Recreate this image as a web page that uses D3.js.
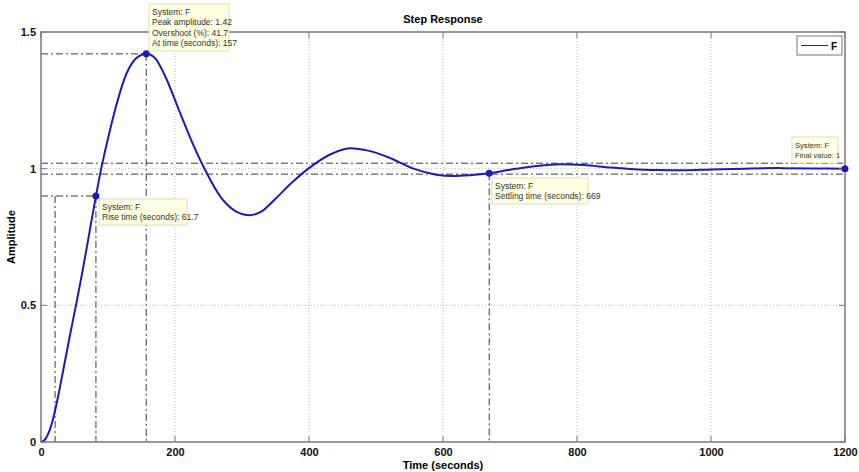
<!DOCTYPE html>
<html>
<head>
<meta charset="utf-8">
<script src="https://cdn.jsdelivr.net/npm/d3@7"></script>
<style>
  body { margin: 0; background: #fff; }
  svg { display: block; font-family: Arial, "Liberation Sans", sans-serif; }
  .tick-label { font-size: 11px; font-weight: bold; fill: #111; }
  .tip text { font-size: 8.5px; fill: #333; }
</style>
</head>
<body>
<svg id="chart" width="859" height="472"></svg>
<script>
// step response
const timeSeconds = [0, 5, 10, 15, 20, 25, 31, 42, 53, 62, 70, 82, 89, 100, 110, 128, 145, 157, 170, 185, 205, 225, 245, 270, 290, 312, 330, 350, 375, 399, 430, 461, 490, 520, 556, 590, 615, 640, 669, 700, 740, 775, 810, 850, 880, 920, 960, 1000, 1050, 1100, 1150, 1200];
const amplitude   = [0, 0.0065, 0.026, 0.058, 0.104, 0.16, 0.235, 0.375, 0.51, 0.625, 0.735, 0.9, 0.99, 1.11, 1.21, 1.35, 1.41, 1.42, 1.405, 1.34, 1.22, 1.1, 0.995, 0.89, 0.845, 0.83, 0.845, 0.89, 0.95, 1.0, 1.05, 1.075, 1.065, 1.04, 1.0, 0.978, 0.973, 0.976, 0.983, 0.996, 1.01, 1.016, 1.013, 1.004, 0.999, 0.995, 0.994, 0.997, 1.0, 1.002, 1.001, 1.0];

const xTicks = [0, 200, 400, 600, 800, 1000, 1200];
const yTicks = [0, 0.5, 1, 1.5];

const riseTimeStart = 21;
const riseTimeEnd = 82;
const riseLevel = 0.9;
const peakTime = 157;
const peakValue = 1.42;
const settleTime = 669;
const settleValue = 0.983;
const settleBand = [0.98, 1.02];
const finalTime = 1200;
const finalValue = 1;

const tipRise = ['System: F', 'Rise time (seconds): 61.7'];
const tipPeak = ['System: F', 'Peak amplitude: 1.42', 'Overshoot (%): 41.7', 'At time (seconds): 157'];
const tipSettle = ['System: F', 'Settling time (seconds): 669'];
const tipFinal = ['System: F', 'Final value: 1'];

const svg = d3.select('#chart');
const pLeft = 41, pRight = 845, pTop = 32, pBottom = 442;
const blue = '#1c1cb4';

const x = d3.scaleLinear().domain([0, 1200]).range([pLeft, pRight]);
const y = d3.scaleLinear().domain([0, 1.5]).range([pBottom, pTop]);

// grid
svg.append('g').selectAll('line')
  .data(xTicks.slice(1, -1)).enter().append('line')
  .attr('x1', d => x(d)).attr('x2', d => x(d))
  .attr('y1', pTop).attr('y2', pBottom)
  .attr('stroke', '#b8b8b8').attr('stroke-width', 1).attr('stroke-dasharray', '1,2');
svg.append('g').selectAll('line')
  .data(yTicks.slice(1, -1)).enter().append('line')
  .attr('x1', pLeft).attr('x2', pRight)
  .attr('y1', d => y(d)).attr('y2', d => y(d))
  .attr('stroke', '#b8b8b8').attr('stroke-width', 1).attr('stroke-dasharray', '1,2');

// characteristic lines
const dashDot = '7,3,2,3';
const marks = svg.append('g').attr('stroke', '#3a3a3a').attr('stroke-width', 1)
  .attr('stroke-dasharray', dashDot).attr('fill', 'none');
[
  [0, riseLevel, riseTimeEnd, riseLevel],
  [riseTimeStart, riseLevel, riseTimeStart, 0],
  [riseTimeEnd, riseLevel, riseTimeEnd, 0],
  [0, peakValue, peakTime, peakValue],
  [peakTime, peakValue, peakTime, 0],
  [0, settleBand[0], 1200, settleBand[0]],
  [0, settleBand[1], 1200, settleBand[1]],
  [settleTime, settleValue, settleTime, 0]
].forEach(s => {
  marks.append('line')
    .attr('x1', x(s[0])).attr('y1', y(s[1]))
    .attr('x2', x(s[2])).attr('y2', y(s[3]));
});

// response curve
const line = d3.line()
  .x((d, i) => x(timeSeconds[i]))
  .y(d => y(d))
  .curve(d3.curveMonotoneX);
svg.append('path')
  .datum(amplitude)
  .attr('d', line)
  .attr('fill', 'none')
  .attr('stroke', blue)
  .attr('stroke-width', 2);

// axes box
svg.append('rect')
  .attr('x', pLeft).attr('y', pTop)
  .attr('width', pRight - pLeft).attr('height', pBottom - pTop)
  .attr('fill', 'none').attr('stroke', '#7a7a7a').attr('stroke-width', 1.5);

const xAxis = d3.axisBottom(x).tickValues(xTicks).tickSize(0).tickPadding(6).tickFormat(d3.format('d'));
svg.append('g').attr('transform', `translate(0,${pBottom})`).call(xAxis)
  .call(g => g.select('.domain').remove())
  .selectAll('text').attr('class', 'tick-label');
const yAxis = d3.axisLeft(y).tickValues(yTicks).tickSize(0).tickPadding(5).tickFormat(d3.format('~g'));
svg.append('g').attr('transform', `translate(${pLeft},0)`).call(yAxis)
  .call(g => g.select('.domain').remove())
  .selectAll('text').attr('class', 'tick-label');

// inward tick marks
const tk = svg.append('g').attr('stroke', '#7a7a7a').attr('stroke-width', 1);
xTicks.forEach(d => {
  tk.append('line').attr('x1', x(d)).attr('x2', x(d)).attr('y1', pBottom).attr('y2', pBottom - 6);
  tk.append('line').attr('x1', x(d)).attr('x2', x(d)).attr('y1', pTop).attr('y2', pTop + 6);
});
yTicks.forEach(d => {
  tk.append('line').attr('x1', pLeft).attr('x2', pLeft + 6).attr('y1', y(d)).attr('y2', y(d));
  tk.append('line').attr('x1', pRight).attr('x2', pRight - 6).attr('y1', y(d)).attr('y2', y(d));
});

// data tips
function tip(px, py, w, lines, fs) {
  const g = svg.append('g').attr('class', 'tip');
  g.append('rect').attr('x', px).attr('y', py)
    .attr('width', w).attr('height', lines.length * 10.5 + 5)
    .attr('fill', '#ffffe3').attr('stroke', '#d8d8b0').attr('stroke-width', 0.8);
  lines.forEach((t, i) => {
    g.append('text').attr('x', px + 3).attr('y', py + 11 + i * 10.3)
      .style('font-size', fs ? fs + 'px' : null).text(t);
  });
}
tip(149, 4, 80, tipPeak);
tip(99, 199, 88, tipRise);
tip(492, 178, 96, tipSettle);
tip(792, 137, 46, tipFinal, 7.6);

// markers
svg.append('g').selectAll('circle')
  .data([[riseTimeEnd, riseLevel], [peakTime, peakValue], [settleTime, settleValue], [finalTime, finalValue]])
  .enter().append('circle')
  .attr('cx', d => x(d[0])).attr('cy', d => y(d[1])).attr('r', 3.5)
  .attr('fill', blue);

// titles
svg.append('text').attr('x', 443).attr('y', 23).attr('text-anchor', 'middle')
  .attr('font-size', 11).attr('font-weight', 'bold').text('Step Response');
svg.append('text').attr('x', 443).attr('y', 469).attr('text-anchor', 'middle')
  .attr('font-size', 11).attr('font-weight', 'bold').text('Time (seconds)');
svg.append('text').attr('transform', `translate(15,${(pTop + pBottom) / 2}) rotate(-90)`)
  .attr('text-anchor', 'middle').attr('font-size', 11).attr('font-weight', 'bold').text('Amplitude');

// legend
const lg = svg.append('g');
lg.append('rect').attr('x', 797).attr('y', 36).attr('width', 45).attr('height', 19)
  .attr('fill', '#fff').attr('stroke', '#777').attr('stroke-width', 1);
lg.append('line').attr('x1', 801).attr('x2', 828).attr('y1', 45.5).attr('y2', 45.5)
  .attr('stroke', blue).attr('stroke-width', 1);
lg.append('text').attr('x', 831).attr('y', 50).attr('font-size', 10).attr('font-weight', 'bold').text('F');
</script>
</body>
</html>
